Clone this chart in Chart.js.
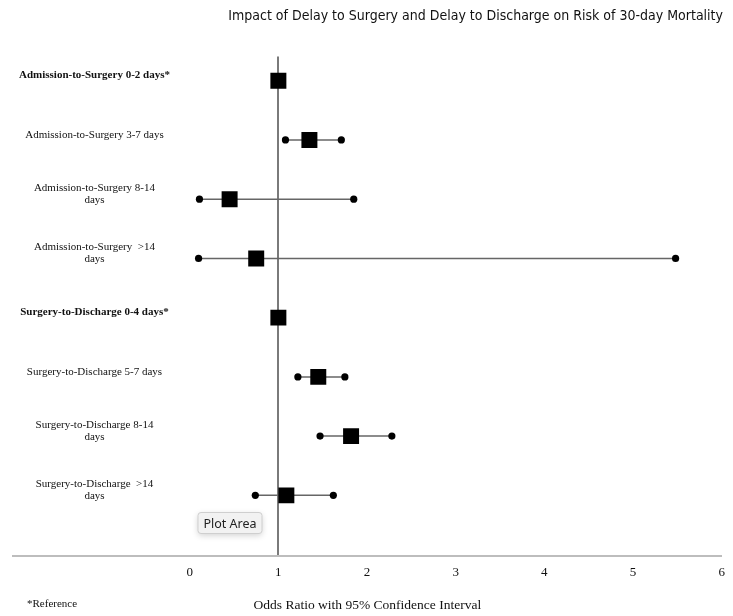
<!DOCTYPE html>
<html>
<head>
<meta charset="utf-8">
<script src="https://cdn.jsdelivr.net/npm/chart.js@4.4.1/dist/chart.umd.min.js"></script>
<style>
    html, body { margin: 0; padding: 0; background: #fff; }
    .chart-container { width: 733px; height: 616px; }
</style>
</head>
<body>
<div class="chart-container"><canvas id="myChart"></canvas></div>
<script>
const rowLabels = [
    ['Admission-to-Surgery 0-2 days*'],
    ['Admission-to-Surgery 3-7 days'],
    ['Admission-to-Surgery 8-14', 'days'],
    ['Admission-to-Surgery  >14', 'days'],
    ['Surgery-to-Discharge 0-4 days*'],
    ['Surgery-to-Discharge 5-7 days'],
    ['Surgery-to-Discharge 8-14', 'days'],
    ['Surgery-to-Discharge  >14', 'days']
];
const isReference = [true, false, false, false, true, false, false, false];
const oddsRatio = [1.00, 1.35, 0.45, 0.75, 1.00, 1.45, 1.82, 1.09];
const ciLower = [null, 1.08, 0.11, 0.10, null, 1.22, 1.47, 0.74];
const ciUpper = [null, 1.71, 1.85, 5.48, null, 1.75, 2.28, 1.62];
const xTicks = [0, 1, 2, 3, 4, 5, 6];

const serif = '"Liberation Serif", "Times New Roman", serif';
const rows = rowLabels.map((label, i) => i + 1);

// one small line per row for the confidence interval
const ciSets = [];
rows.forEach((row, i) => {
    if (ciLower[i] === null) return;
    ciSets.push({
        data: [{ x: ciLower[i], y: row }, { x: ciUpper[i], y: row }],
        showLine: true,
        borderColor: '#666',
        borderWidth: 1.5,
        pointRadius: 3.6,
        pointBackgroundColor: '#000',
        pointBorderWidth: 0,
        order: 2
    });
});

const footnotes = {
    id: 'footnotes',
    afterDraw(chart) {
        const ctx = chart.ctx;
        const area = chart.chartArea;
        ctx.save();
        ctx.fillStyle = '#111';
        ctx.font = '11px ' + serif;
        ctx.textBaseline = 'middle';
        ctx.textAlign = 'left';
        ctx.fillText('*Reference', 27, 604);

        // hover box seen in the original screenshot
        const bx = area.left + 185, by = area.bottom - 43, bw = 64, bh = 21;
        ctx.shadowColor = 'rgba(0,0,0,0.18)';
        ctx.shadowBlur = 6;
        ctx.shadowOffsetY = 2;
        ctx.fillStyle = '#f2f2f2';
        ctx.beginPath();
        ctx.roundRect(bx, by, bw, bh, 3);
        ctx.fill();
        ctx.shadowColor = 'transparent';
        ctx.strokeStyle = '#cfcfcf';
        ctx.lineWidth = 1;
        ctx.stroke();
        ctx.fillStyle = '#222';
        ctx.font = '12.5px "Noto Sans", "DejaVu Sans", sans-serif';
        ctx.textAlign = 'center';
        ctx.fillText('Plot Area', bx + bw / 2, by + bh / 2 + 1);
        ctx.restore();
    }
};

new Chart(document.getElementById('myChart'), {
    type: 'scatter',
    data: {
        datasets: [{
            data: oddsRatio.map((v, i) => ({ x: v, y: rows[i] })),
            pointStyle: 'rect',
            pointRadius: 11.3,
            pointBackgroundColor: '#000',
            pointBorderWidth: 0,
            showLine: false,
            order: 1
        }].concat(ciSets)
    },
    options: {
        responsive: true,
        maintainAspectRatio: false,
        animation: false,
        layout: { padding: { left: 0, right: 10, top: 0, bottom: 2 } },
        plugins: {
            legend: { display: false },
            tooltip: { enabled: false },
            title: {
                display: true,
                text: 'Impact of Delay to Surgery and Delay to Discharge on Risk of 30-day Mortality',
                align: 'end',
                color: '#111',
                font: { family: '"DejaVu Sans Condensed", "DejaVu Sans", sans-serif', size: 14, weight: 'normal', lineHeight: 1.4 },
                padding: { top: 7, bottom: 30 }
            }
        },
        scales: {
            x: {
                type: 'linear',
                min: -1.993,
                max: 6,
                afterBuildTicks: scale => { scale.ticks = xTicks.map(v => ({ value: v })); },
                grid: {
                    drawTicks: false,
                    color: ctx => ctx.tick && ctx.tick.value === 1 ? '#7a7a7a' : 'rgba(0,0,0,0)',
                    lineWidth: ctx => ctx.tick && ctx.tick.value === 1 ? 2 : 0
                },
                border: { display: true, color: '#bdbdbd', width: 2 },
                ticks: {
                    color: '#111',
                    padding: 3,
                    font: { family: serif, size: 13, lineHeight: 2.1 },
                    callback: v => String(v)
                },
                title: {
                    display: true,
                    text: 'Odds Ratio with 95% Confidence Interval',
                    color: '#111',
                    font: { family: serif, size: 13.5 },
                    padding: { top: 9, bottom: 0 }
                }
            },
            y: {
                type: 'linear',
                reverse: true,
                min: 0.594,
                max: 9.015,
                afterBuildTicks: scale => { scale.ticks = rows.map(v => ({ value: v })); },
                afterFit: scale => { scale.width = 13; },
                grid: { display: false },
                border: { display: false },
                ticks: {
                    mirror: true,
                    crossAlign: 'center',
                    padding: 6,
                    labelOffset: -5,
                    color: '#111',
                    font: ctx => ({
                        family: serif,
                        size: 11,
                        lineHeight: 1.1,
                        weight: ctx.tick && isReference[ctx.tick.value - 1] ? 'bold' : 'normal'
                    }),
                    callback: v => rowLabels[v - 1]
                }
            }
        }
    },
    plugins: [footnotes]
});
</script>
</body>
</html>
